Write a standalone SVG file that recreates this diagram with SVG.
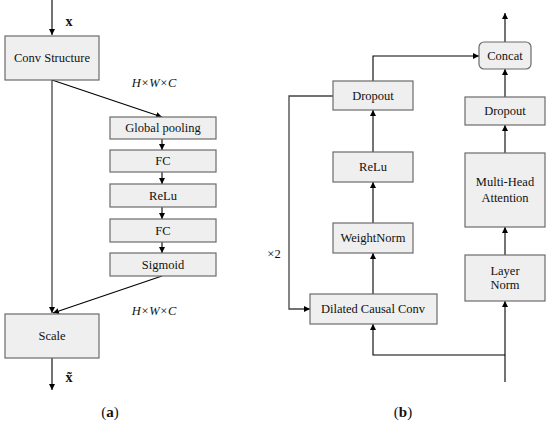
<svg xmlns="http://www.w3.org/2000/svg" width="550" height="424" viewBox="0 0 550 424">
<defs>
<marker id="ah" viewBox="0 0 10 10" refX="10" refY="5" markerWidth="6" markerHeight="6" markerUnits="userSpaceOnUse" orient="auto">
<path d="M0,0 L10,5 L0,10 z" fill="#000"/>
</marker>
</defs>
<style>
.box{fill:#efefef;stroke:#6b6b6b;stroke-width:1.2}
.t{font-family:"Liberation Serif","Times New Roman",serif;font-size:12.5px;fill:#111;text-anchor:middle;dominant-baseline:central}
.it{font-family:"Liberation Serif","Times New Roman",serif;font-size:12.5px;font-style:italic;fill:#111;text-anchor:middle;dominant-baseline:central}
.b{font-family:"Liberation Serif","Times New Roman",serif;font-size:14px;font-weight:bold;fill:#111;text-anchor:middle;dominant-baseline:central}
.cap{font-family:"Liberation Serif","Times New Roman",serif;font-size:15px;fill:#111;text-anchor:middle;dominant-baseline:central}
.ln{fill:none;stroke:#000;stroke-width:1.1}
.lg{fill:none;stroke:#444;stroke-width:1.3}
</style>
<rect width="550" height="424" fill="#fff"/>
<g id="connectors">
<path class="ln" d="M52,0 V35" marker-end="url(#ah)"/>
<path class="lg" d="M52,80 V313" stroke-width="1.8" marker-end="url(#ah)"/>
<path class="ln" d="M52,80 L162,117" marker-end="url(#ah)"/>
<path class="ln" d="M162,139 V150" marker-end="url(#ah)"/>
<path class="ln" d="M162,172 V184" marker-end="url(#ah)"/>
<path class="ln" d="M162,207 V219" marker-end="url(#ah)"/>
<path class="ln" d="M162,242 V253" marker-end="url(#ah)"/>
<path class="ln" d="M162,276 L53,313" marker-end="url(#ah)"/>
<path class="ln" d="M52,358 V390" marker-end="url(#ah)"/>
<path class="ln" d="M505,42 V13" marker-end="url(#ah)"/>
<path class="ln" d="M373,81 V56 H479" marker-end="url(#ah)"/>
<path class="lg" d="M333,96 H289 V309 H310" marker-end="url(#ah)"/>
<path class="ln" d="M373,152 V110" marker-end="url(#ah)"/>
<path class="ln" d="M373,223 V182" marker-end="url(#ah)"/>
<path class="ln" d="M373,294 V253" marker-end="url(#ah)"/>
<path class="ln" d="M505,97 V69" marker-end="url(#ah)"/>
<path class="ln" d="M505,153 V125" marker-end="url(#ah)"/>
<path class="ln" d="M505,255 V227" marker-end="url(#ah)"/>
<path class="ln" d="M505,382 V301" marker-end="url(#ah)"/>
<path class="ln" d="M505,355 H373 V324" marker-end="url(#ah)"/>
</g>
<g id="conv"><rect class="box" x="5" y="36" width="94" height="44"/><text class="t" x="52" y="58">Conv Structure</text></g>
<g id="gpool"><rect class="box" x="110" y="117" width="106" height="22"/><text class="t" x="163" y="128">Global pooling</text></g>
<g id="fc1"><rect class="box" x="110" y="150" width="106" height="22"/><text class="t" x="163" y="161">FC</text></g>
<g id="relu-a"><rect class="box" x="110" y="184" width="106" height="23"/><text class="t" x="163" y="195.5">ReLu</text></g>
<g id="fc2"><rect class="box" x="110" y="219" width="106" height="23"/><text class="t" x="163" y="230.5">FC</text></g>
<g id="sigmoid"><rect class="box" x="110" y="253" width="106" height="23"/><text class="t" x="163" y="264.5">Sigmoid</text></g>
<g id="scale"><rect class="box" x="5" y="314" width="94" height="44"/><text class="t" x="52" y="336">Scale</text></g>
<g id="labels-a">
<text class="b" x="69" y="21">x</text>
<text class="b" x="69" y="377">x̃</text>
<text class="it" x="154" y="83">H×W×C</text>
<text class="it" x="154" y="311">H×W×C</text>
<text class="cap" x="110" y="412">(<tspan font-weight="bold">a</tspan>)</text>
</g>
<g id="concat"><rect class="box" x="479" y="42" width="52" height="27" rx="5"/><text class="t" x="505" y="55.5">Concat</text></g>
<g id="dropout-l"><rect class="box" x="333" y="81" width="80" height="29"/><text class="t" x="373" y="95.5">Dropout</text></g>
<g id="relu-b"><rect class="box" x="333" y="152" width="80" height="30"/><text class="t" x="373" y="167">ReLu</text></g>
<g id="weightnorm"><rect class="box" x="333" y="223" width="80" height="30"/><text class="t" x="373" y="238">WeightNorm</text></g>
<g id="dcc"><rect class="box" x="310" y="294" width="127" height="30"/><text class="t" x="373" y="309">Dilated Causal Conv</text></g>
<g id="dropout-r"><rect class="box" x="465" y="97" width="80" height="28"/><text class="t" x="505" y="111">Dropout</text></g>
<g id="mha"><rect class="box" x="465" y="153" width="80" height="74"/><text class="t" x="505" y="182">Multi-Head</text><text class="t" x="505" y="198">Attention</text></g>
<g id="layernorm"><rect class="box" x="465" y="255" width="80" height="46"/><text class="t" x="505" y="271">Layer</text><text class="t" x="505" y="285">Norm</text></g>
<g id="labels-b">
<text class="t" x="274" y="254">×2</text>
<text class="cap" x="403" y="412">(<tspan font-weight="bold">b</tspan>)</text>
</g>
</svg>
